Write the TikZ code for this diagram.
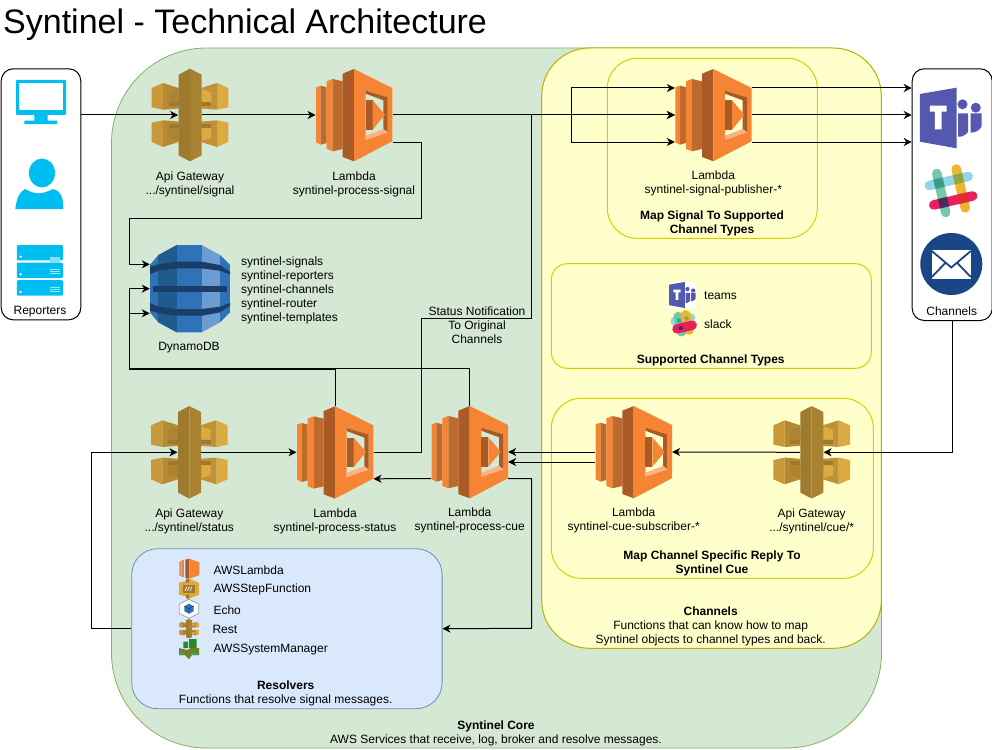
\documentclass[tikz,border=0pt]{standalone}
\usepackage{fontspec}
\setmainfont{Liberation Sans}
\usepackage{xcolor}
\usetikzlibrary{arrows.meta,positioning,calc}

\definecolor{lamfront}{HTML}{F58534}
\definecolor{lamdark}{HTML}{A95A25}
\definecolor{lamside}{HTML}{BE6A2C}
\definecolor{lamlight}{HTML}{FBB283}
\definecolor{gwlface}{HTML}{C8983A}
\definecolor{gwlmid}{HTML}{B58A33}
\definecolor{gwlarm}{HTML}{AC8330}
\definecolor{gwrface}{HTML}{DDAA42}
\definecolor{gwrmid}{HTML}{BF9236}
\definecolor{gwrarm}{HTML}{DDAA42}
\definecolor{gwdark}{HTML}{9E7A2E}
\definecolor{ddbdark}{HTML}{205B8F}
\definecolor{ddbmid}{HTML}{2E73B8}
\definecolor{ddblight}{HTML}{6C9CD0}
\definecolor{ddbband}{HTML}{1A3E6A}
\definecolor{repblue}{HTML}{00BEF2}
\definecolor{teamsblue}{HTML}{5558AF}
\definecolor{mailblue}{HTML}{1A4587}
\definecolor{slkblue}{HTML}{8FD7E6}
\definecolor{slkgreen}{HTML}{72C9AB}
\definecolor{slkyellow}{HTML}{EDB42E}
\definecolor{slkpink}{HTML}{E9205F}
\definecolor{slkteal}{HTML}{3F9B85}
\definecolor{slkolive}{HTML}{8FA54A}
\definecolor{slkplum}{HTML}{4A2B5A}
\definecolor{slkred}{HTML}{E22C2F}
\definecolor{corefill}{HTML}{D5E8D4}
\definecolor{coreline}{HTML}{82B366}
\definecolor{chanfill}{HTML}{FFFFCC}
\definecolor{chanline}{HTML}{B3B300}
\definecolor{subline}{HTML}{D6D000}
\definecolor{resfill}{HTML}{DAE8FC}
\definecolor{resline}{HTML}{6C8EBF}

\tikzset{
  lambdaicon/.pic={
    \fill[lamfront] (-38,-27.7)--(-33.3,-29.3)--(-33.3,29.7)--(-38,27.3)--cycle;
    \fill[lamside] (-33.3,-29.3)--(-27.3,-27.7)--(-27.3,28)--(-33.3,29.7)--cycle;
    \fill[lamfront] (-27.3,-33.7)--(-21.3,-36)--(-21.3,36.3)--(-27.3,34)--cycle;
    \fill[lamside] (-21.3,-36)--(-11.3,-33.7)--(-11.3,34)--(-21.3,36.3)--cycle;
    \fill[lamdark] (-11.3,-41.3)--(0,-46)--(0,46.3)--(-11.3,42)--cycle;
    \fill[lamfront,even odd rule] (0,-46)--(38.3,-27)--(38.3,26.3)--(0,46.3)--cycle
      (11.7,-24.3)--(33.7,-17.7)--(33.7,17.3)--(11.7,24.7)--cycle;
    \fill[lamdark] (11.7,-24.3)--(33.7,-17.7)--(33.7,17.3)--(29.3,14)--(29.3,-14.7)--(11.7,-21.3)--cycle;
    \fill[lamlight] (11.7,24.7)--(33.7,17.3)--(29.3,14)--(11.7,20.7)--cycle;
    \fill[lamdark] (11.7,-14.7)--(18.7,-14.7)--(18.7,14.7)--(11.7,14.7)--cycle;
    \fill[lamfront] (18.7,-14.7)--(31,-0.3)--(18.7,14.7)--cycle;
  },
  gatewayicon/.pic={
    \foreach \sx/\cf/\cm/\ca in {1/gwlface/gwlmid/gwlarm,-1/gwrface/gwrmid/gwrarm}{\foreach \sy in {1,-1}{
      \begin{scope}[xscale=\sx,yscale=\sy]
        \fill[\cf] (-38.3,-27)--(-27,-32)--(-27,-5.3)--(-38.3,-7.7)--cycle;
        \fill[\cm] (-27,-32)--(-11.3,-27)--(-11.3,-6.5)--(-27,-5.3)--cycle;
        \fill[\ca] (-21.3,-22.7)--(-11.3,-26)--(-11.3,-12.7)--(-21.3,-12.7)--cycle;
        \fill[gwdark] (-21.3,-12.7) rectangle (-11.3,-8.7);
      \end{scope}}}
    \fill[gwdark] (-11.3,-40.3)--(0,-46.3)--(0,46.3)--(-11.3,40.3)--cycle;
    \fill[gwdark!85!gwrface] (11.7,-40.3)--(0,-46.3)--(0,46.3)--(11.7,40.3)--cycle;
  },
  dynamoicon/.pic={
    \begin{scope}
      \clip (-13.3,-43.7)--(11.7,-43.7)--(30,-33.7)--(40,-23.7)--(40,23.7)--(30,33.7)--(11.7,43.7)
        --(-13.3,43.7)--(-31.7,33.7)--(-40,23.7)--(-40,-23.7)--(-31.7,-33.7)--cycle;
      \fill[ddbmid] (-40,-44) rectangle (-31.7,44);
      \fill[ddbdark] (-31.7,-44) rectangle (-13.3,44);
      \fill[ddbmid] (-13.3,-44) rectangle (11.7,44);
      \fill[ddblight] (11.7,-44) rectangle (30,44);
      \fill[ddbmid] (30,-44) rectangle (40,44);
    \end{scope}
    \foreach \sy in {1,-1}{
      \fill[ddbband,yscale=\sy] (-40,-22)--(-31.7,-24.3)--(-13.3,-27)--(11.7,-27)--(30,-23.7)--(40,-17)
        --(40,-14.3)--(30,-18)--(11.7,-20.3)--(-13.3,-20.3)--(-31.7,-18)--(-40,-14.3)--cycle;}
    \fill[ddbband] (-37,-3) rectangle (37,3);
  },
  teamsicon/.pic={
    \fill[teamsblue] (-31.2,-24)--(5.5,-30.3)--(5.5,30.3)--(-31.2,23.7)--cycle;
    \fill[white] (-21.2,-12.3) rectangle (-4.5,-6.3) (-16.2,-6.3) rectangle (-9.5,11.3);
    \fill[teamsblue] (11.5,-13.7) circle (5) (24.8,-10.3) circle (5);
    \fill[teamsblue] (7.2,-4.7)--(17.2,-4.7)--(17.2,13.7) .. controls (15,17) and (11,19) .. (7.2,18.7)--cycle;
    \fill[teamsblue] (19.5,-4.7)--(30.5,-4.7)--(30.5,8.7) .. controls (29,12) and (24,15) .. (19.5,14.7)--cycle;
  },
  slackicon/.pic={
    \begin{scope}[rotate=13,line cap=round,line width=9.5]
      \draw[slkblue] (-20,-10)--(20,-10);
      \draw[slkgreen] (-10,-20)--(-10,20);
      \draw[slkyellow] (10,-20)--(10,20);
      \draw[slkpink] (-20,10)--(20,10);
      \fill[slkteal] (-14.75,-14.75) rectangle (-5.25,-5.25);
      \fill[slkolive] (5.25,-14.75) rectangle (14.75,-5.25);
      \fill[slkplum] (-14.75,5.25) rectangle (-5.25,14.75);
      \fill[slkred] (5.25,5.25) rectangle (14.75,14.75);
    \end{scope}
  },
  mailicon/.pic={
    \fill[mailblue] (0,0) circle (31);
    \fill[white] (-19.5,-14.5) rectangle (19.5,14.5);
    \draw[mailblue,line width=1.8] (-19.5,-13)--(0,3.5)--(19.5,-13) (-19.5,13)--(-6,-1) (19.5,13)--(6,-1);
  },
  monitoricon/.pic={
    \fill[repblue,rounded corners=1] (-25,-17.5) rectangle (25,17.5);
    \fill[white] (-21.7,-14.2) rectangle (21.7,12.5);
    \fill[repblue] (-6.7,17) rectangle (6.7,24) (-16.7,23.2) rectangle (16,26.5);
  },
  usericon/.pic={
    \fill[repblue] (0,-11) ellipse (13 and 14.5);
    \fill[repblue] (-26.7,25) .. controls (-25,12) and (-22,8) .. (-17,5) .. controls (-10,9) and (-5,10) .. (0,9)
      .. controls (5,8) and (9,6) .. (11,5) .. controls (18,6) and (22,14) .. (21,25)--cycle;
  },
  servericon/.pic={
    \foreach \yy in {-17.6,0,17.6}{
      \fill[repblue,rounded corners=1] (-23,\yy-7.7) rectangle (23,\yy+7.7);
      \fill[white] (-19.2,\yy+4) circle (1.3);}
    \fill[repblue!50!white] (10,-13) rectangle (20,-7);
    \foreach \yy in {0,17.6}{
      \foreach \dd in {0,2,4}{\fill[repblue!40!white] (10,\yy-1+\dd) rectangle (20,\yy+\dd);}}
  },
  computeicon/.pic={
    \fill[lamfront] (-10,-7)--(-8.5,-7.5)--(-8.5,7.5)--(-10,7)--cycle;
    \fill[lamdark] (-7.7,-8)--(-6.7,-8.5)--(-6.7,8.5)--(-7.7,8)--cycle;
    \fill[lamfront] (-6.7,-8.5)--(-5.5,-8.5)--(-5.5,8.5)--(-6.7,8.5)--cycle;
    \fill[lamdark] (-4,-9)--(0,-10)--(0,10)--(-4,9)--cycle;
    \fill[lamfront] (0,-10)--(10,-6.5)--(10,6.5)--(0,10)--cycle;
  },
  stepicon/.pic={
    \fill[gwrface] (-10,-6)--(-3,-8)--(-3,-7)--(0,-10)--(10,-6)--(10,6)--(0,10)--(-3,8)--(-10,6)--cycle;
    \fill[gwdark] (-6,-4) rectangle (6,4);
    \fill[gwdark] (-3,-10) rectangle (0,-6) (-3,6) rectangle (0,10);
    \draw[white,line width=.7] (-4,2)--(-2,-2) (-1.5,2)--(.5,-2) (1,2)--(3,-2);
  },
  echoicon/.pic={
    \draw[fill=white,draw=black!35,line width=.8] (0,-9.5)--(9.7,-4.7)--(9.7,4.7)--(0,9.5)--(-9.7,4.7)--(-9.7,-4.7)--cycle;
    \fill[ddbmid] (0,-5)--(4.7,-2.5)--(4.7,2.5)--(0,5)--(-4.7,2.5)--(-4.7,-2.5)--cycle;
    \draw[ddbband,line width=.5] (-4.7,-2.5)--(0,0)--(4.7,-2.5) (0,0)--(0,5);
  },
  ssmicon/.pic={
    \fill[green!45!black!85] (-5.7,-7.5) rectangle (-1,-1) (0,-10) rectangle (7.5,-1);
    \fill[olive!70!green!80!black] (-10,-1)--(-2,1)--(2,-1)--(10,-1)--(10,6)--(3,6)--(0,10)--(-4,6)--(-10,6)--cycle;
    \fill[green!45!black!70] (-10,3) rectangle (-5,6) (2,3) rectangle (8,6);
  }
}

\begin{document}
\begin{tikzpicture}[x=1pt,y=-1pt,font=\fontsize{12}{14}\selectfont]
\tikzset{
  core/.style={draw=coreline,line width=.8,fill=corefill,rounded corners=95},
  chan/.style={draw=chanline,line width=1,fill=chanfill,rounded corners=48},
  sub/.style={draw=subline,line width=1,fill=chanfill,rounded corners=30},
  res/.style={draw=resline,line width=.8,fill=resfill,rounded corners=26},
  actor/.style={draw,line width=1,fill=white,rounded corners=12},
  lbl/.style={align=center,inner sep=0pt},
  lst/.style={align=left,inner sep=0pt,anchor=west},
  lamnode/.style={inner sep=0pt,minimum width=76.6,minimum height=92},
  gwnode/.style={inner sep=0pt,minimum width=23.4,minimum height=92},
  ddbnode/.style={inner sep=0pt,minimum width=80,minimum height=87},
  arr/.style={-{Stealth[length=8pt,width=8pt,inset=2.5pt]},line width=1}
}
\useasboundingbox (0,0) rectangle (992,749);
\node(title)[lbl,anchor=west] at (3,25) {\fontsize{34}{40}\selectfont Syntinel - Technical Architecture};

\draw[core] (111.5,48) rectangle (881.5,748);
\draw[chan] (541.7,48) rectangle (881.3,648.3);
\draw[sub] (607.3,58.3) rectangle (817.3,238.3);
\draw[sub,rounded corners=16] (551.3,263.7) rectangle (871.3,368.3);
\draw[sub] (551.3,398.3) rectangle (873.3,578.3);
\node(res)[res,minimum width=310.4,minimum height=160,anchor=north west,inner sep=0pt] at (131.3,548.3) {};
\node(rep)[actor,minimum width=79.6,minimum height=251,anchor=north west,inner sep=0pt] at (.7,68.3) {};
\node(chn)[actor,minimum width=80,minimum height=251.7,anchor=north west,inner sep=0pt] at (911.7,68.3) {};

\node(gwsig)[gwnode] at (190,115) {};       \pic at (gwsig) {gatewayicon};
\node(lamsig)[lamnode] at (354,115) {};     \pic at (lamsig) {lambdaicon};
\node(lampub)[lamnode] at (713.3,115) {};   \pic at (lampub) {lambdaicon};
\node(ddb)[ddbnode] at (190,288.7) {};      \pic at (ddb) {dynamoicon};
\node(gwsta)[gwnode] at (189.3,452.3) {};   \pic at (gwsta) {gatewayicon};
\node(lamsta)[lamnode] at (335,452.3) {};   \pic at (lamsta) {lambdaicon};
\node(lamcue)[lamnode] at (469.7,452) {};   \pic at (lamcue) {lambdaicon};
\node(lamsub)[lamnode] at (633.7,452) {};   \pic at (lamsub) {lambdaicon};
\node(gwcue)[gwnode] at (811.7,452.3) {};   \pic at (gwcue) {gatewayicon};

\pic at (41,97.5) {monitoricon};
\pic at (42,184) {usericon};
\pic at (39.8,270.3) {servericon};
\node(replbl)[lbl] at (40,311.5) {Reporters};
\pic at (951,118) {teamsicon};
\pic at (951,190.7) {slackicon};
\pic at (951.3,264) {mailicon};
\node(chnlbl)[lbl] at (951.7,311.7) {Channels};

\node(gwsiglbl)[lbl,below=10pt of gwsig] {Api Gateway\\.../syntinel/signal};
\node(lamsiglbl)[lbl,below=10pt of lamsig] {Lambda\\syntinel-process-signal};
\node(lampublbl)[lbl,below=9pt of lampub] {Lambda\\syntinel-signal-publisher-*};
\node(pubcap)[lbl] at (712,223.2) {\textbf{Map Signal To Supported}\\\textbf{Channel Types}};
\node(ddblbl)[lbl] at (189,347.2) {DynamoDB};
\node(tables)[lst] at (241,290) {syntinel-signals\\syntinel-reporters\\syntinel-channels\\syntinel-router\\syntinel-templates};
\node(statuslbl)[lbl] at (477,325) {Status Notification\\To Original\\Channels};

\fill[white] (669,281.7) rectangle (696,307.7);
\pic[scale=.43] at (682.5,295) {teamsicon};
\pic[scale=.39] at (683.7,323.3) {slackicon};
\node(teamslbl)[lst] at (704,295.7) {teams};
\node(slacklbl)[lst] at (704,324.7) {slack};
\node(supcap)[lbl] at (710.7,360.2) {\textbf{Supported Channel Types}};

\node(gwstalbl)[lbl,below=10pt of gwsta] {Api Gateway\\.../syntinel/status};
\node(lamstalbl)[lbl,below=10pt of lamsta] {Lambda\\syntinel-process-status};
\node(lamcuelbl)[lbl,below=9.5pt of lamcue] {Lambda\\syntinel-process-cue};
\node(lamsublbl)[lbl,below=9.5pt of lamsub] {Lambda\\syntinel-cue-subscriber-*};
\node(gwcuelbl)[lbl,below=10.5pt of gwcue] {Api Gateway\\.../syntinel/cue/*};
\node(repcap)[lbl] at (712,563.2) {\textbf{Map Channel Specific Reply To}\\\textbf{Syntinel Cue}};
\node(chancap)[lbl] at (710.7,626.2) {\textbf{Channels}\\Functions that can know how to map\\Syntinel objects to channel types and back.};

\pic at (189.3,568.7) {computeicon};
\pic at (189,588.7) {stepicon};
\pic at (189,608.7) {echoicon};
\pic[xscale=.26,yscale=.21] at (189,628.7) {gatewayicon};
\pic at (189,649) {ssmicon};
\node(resa)[lst] at (213.3,569.8) {AWSLambda};
\node(resb)[lst] at (213.3,589.8) {AWSStepFunction};
\node(resc)[lst] at (213.3,609.8) {Echo};
\node(resd)[lst] at (212.3,629.8) {Rest};
\node(rese)[lst] at (213.3,649.8) {AWSSystemManager};
\node(rescap)[lbl] at (285.7,693) {\textbf{Resolvers}\\Functions that resolve signal messages.};
\node(corecap)[lbl] at (496,733) {\textbf{Syntinel Core}\\AWS Services that receive, log, broker and resolve messages.};

\coordinate(fork) at (571.3,115);
\draw[arr](rep.east|-gwsig)--(gwsig.west);
\draw[arr](gwsig.east)--(lamsig.west);
\draw[arr](lamsig.east)--(lampub.west);
\draw[arr](fork)|-([yshift=27pt]lampub.west);
\draw[arr](fork)|-([yshift=-27pt]lampub.west);
\draw[arr]([yshift=27pt]lampub.east)--(chn.west|-{$(lampub)+(0,-27)$});
\draw[arr](lampub.east)--(chn.west|-lampub);
\draw[arr]([yshift=-27pt]lampub.east)--(chn.west|-{$(lampub)+(0,27)$});
\draw[arr]([yshift=-27pt]lamsig.east)-|(421.5,218.3)-|(129.3,264.3)--([yshift=24.4pt]ddb.west);
\draw[arr](lamsta.north)|-(129.3,369)|-([yshift=-24.6pt]ddb.west);
\draw[arr](lamcue.north)|-(129.3,368.5)|-(ddb.west);
\draw[arr](lamsta.east)-|(421.5,318)-|(531.5,115)--(lampub.west);
\draw[arr](chn.south)|-(gwcue.east);
\draw[arr](gwcue.west)--(lamsub.east);
\draw[arr](lamsub.west)--(lamcue.east);
\draw[arr]([yshift=-10pt]lamsub.west)--([yshift=-10pt]lamcue.east);
\draw[arr]([yshift=-26.5pt]lamcue.west)--([yshift=-26.5pt]lamsta.east);
\draw[arr]([yshift=-26.5pt]lamcue.east)-|(531.7,628.3)--(res.east);
\draw[arr](res.west)-|(91.7,452.3)--(gwsta.west);
\draw[arr](gwsta.east)--(lamsta.west);
\end{tikzpicture}
\end{document}
